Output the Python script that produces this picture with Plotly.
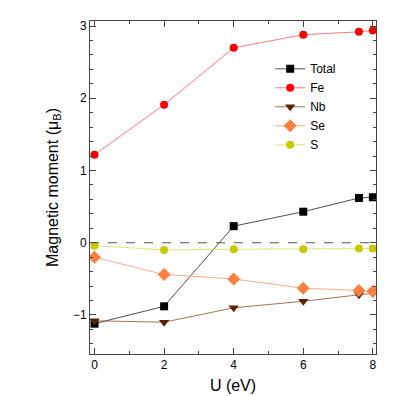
import plotly.graph_objects as go

# U values (eV)
u = [0, 2, 4, 6, 7.6, 8]

# magnetic moments (muB)
total = [-1.12, -0.88, 0.23, 0.43, 0.62, 0.63]
fe = [1.22, 1.91, 2.70, 2.88, 2.92, 2.94]
nb = [-1.08, -1.10, -0.90, -0.81, -0.72, -0.70]
se = [-0.20, -0.44, -0.50, -0.63, -0.66, -0.67]
s = [-0.04, -0.10, -0.09, -0.09, -0.08, -0.08]

series = [
    ("Total", total, "black", "rgba(60,60,60,0.9)", "square", 8),
    ("Fe", fe, "#ff0000", "rgba(255,90,90,0.8)", "circle", 8),
    ("Nb", nb, "#5c2200", "rgba(140,80,50,0.8)", "triangle-down", 9),
    ("Se", se, "#ff7f3f", "rgba(255,150,110,0.8)", "diamond", 10),
    ("S", s, "#c8c800", "rgba(220,220,90,0.8)", "circle", 8),
]

fig = go.Figure()

# dashed zero line
fig.add_shape(type="line", xref="paper", x0=0, x1=1, yref="y", y0=0, y1=0,
              line=dict(color="#555", width=1, dash="dash"))

for name, vals, mcol, lcol, sym, size in series:
    fig.add_trace(go.Scatter(
        x=u, y=vals, name=name, mode="lines+markers",
        line=dict(color=lcol, width=1),
        marker=dict(symbol=sym, size=size, color=mcol),
    ))

axis_common = dict(
    showgrid=False, zeroline=False, showline=True, linecolor="#444",
    linewidth=1, mirror="ticks", ticks="inside", ticklen=6, tickcolor="#444",
    tickfont=dict(family="Liberation Sans, Arial", size=12, color="black"),
)

fig.update_layout(
    width=415, height=396,
    margin=dict(l=82, r=47, t=11, b=50),
    plot_bgcolor="white", paper_bgcolor="white",
    font=dict(family="Liberation Sans, Arial", size=13, color="black"),
    xaxis=dict(range=[-0.13, 8.09], dtick=2, title=dict(text="U (eV)", standoff=8),
               minor=dict(dtick=1, ticks="inside", ticklen=3, tickcolor="#444"),
               **axis_common),
    yaxis=dict(range=[-1.54, 3.07], dtick=1,
               title=dict(text="Magnetic moment (μ<sub>B</sub>)", standoff=10),
               minor=dict(dtick=0.2, ticks="inside", ticklen=3, tickcolor="#444"),
               **axis_common),
    legend=dict(x=0.63, y=0.9, xanchor="left", yanchor="top",
                bgcolor="rgba(0,0,0,0)", tracegroupgap=0, itemwidth=30,
                font=dict(size=12)),
)

fig.write_html("out.html")
